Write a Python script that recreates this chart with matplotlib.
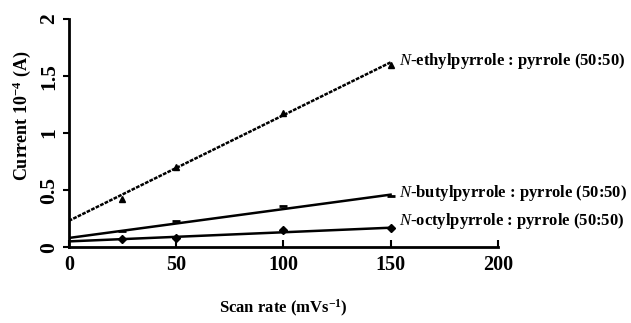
import matplotlib
matplotlib.use("Agg")
import matplotlib.pyplot as plt
import numpy as np

scan = [25, 50, 100, 150]
ethyl = [0.42, 0.70, 1.18, 1.60]
butyl = [0.14, 0.23, 0.36, 0.45]
octyl = [0.07, 0.08, 0.15, 0.17]
fit_x = [0, 150]
ethyl_fit = [0.23, 1.62]
butyl_fit = [0.08, 0.46]
octyl_fit = [0.05, 0.17]
labels = ["-ethylpyrrole : pyrrole (50:50)",
          "-butylpyrrole : pyrrole (50:50)",
          "-octylpyrrole : pyrrole (50:50)"]
label_y = [1.63, 0.475, 0.225]

plt.rcParams['font.family'] = ['Liberation Serif', 'DejaVu Serif']
plt.rcParams['mathtext.fontset'] = 'custom'
plt.rcParams['mathtext.rm'] = 'Liberation Serif:bold'
plt.rcParams['mathtext.bf'] = 'Liberation Serif:bold'
plt.rcParams['mathtext.it'] = 'Liberation Serif:italic'
fig = plt.figure(figsize=(6.31, 3.23), dpi=100)
ax = fig.add_axes([0.109, 0.235, 0.68, 0.706])

ax.plot(fit_x, ethyl_fit, color='black', lw=1.8, ls=(0, (1.5, 0.5)))
ax.plot(scan, ethyl, ls='none', marker='^', color='black', ms=5)
ax.plot(fit_x, butyl_fit, color='black', lw=1.8)
ax.plot(scan, butyl, ls='none', marker='_', color='black', ms=6, mew=2)
ax.plot(fit_x, octyl_fit, color='black', lw=1.8)
ax.plot(scan, octyl, ls='none', marker='D', color='black', ms=4)

for lab, yy in zip(labels, label_y):
    ax.text(154, yy, r'$\it{N}$' + lab, fontsize=12, fontweight='bold',
            va='center', ha='left', clip_on=False)

ax.set_xlim(0, 200)
ax.set_ylim(0, 2)
ax.set_xticks([0, 50, 100, 150, 200])
ax.set_yticks([0, 0.5, 1, 1.5, 2])
ax.set_yticklabels(['0', '0.5', '1', '1.5', '2'], rotation=90, va='center')
for lbl in ax.get_xticklabels():
    lbl.set_fontsize(14.5)
    lbl.set_fontweight('bold')
for lbl in ax.get_yticklabels():
    lbl.set_fontsize(15.5)
    lbl.set_fontweight('bold')
ax.tick_params(axis='x', direction='in', length=5, width=1.5, pad=6)
ax.tick_params(axis='y', direction='out', length=4, width=1.5, pad=3)
for s in ['top', 'right']:
    ax.spines[s].set_visible(False)
for s in ['left', 'bottom']:
    ax.spines[s].set_linewidth(2)

ax.set_xlabel(r'Scan rate (mVs$^{-1}$)', fontsize=12, fontweight='bold', labelpad=16)
ax.set_ylabel(r'Current 10$^{-4}$ (A)', fontsize=13, fontweight='bold')
ax.yaxis.set_label_coords(-0.084, 0.575)

fig.savefig('out.png', dpi=100)
